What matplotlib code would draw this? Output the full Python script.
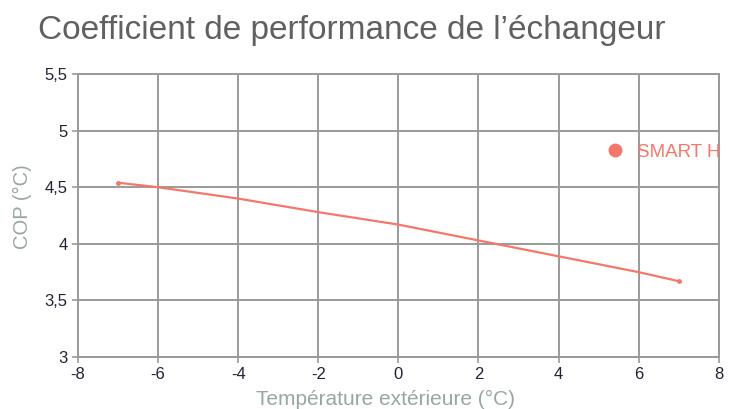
import matplotlib
matplotlib.use("Agg")
import matplotlib.pyplot as plt
from matplotlib.lines import Line2D
from matplotlib.ticker import FuncFormatter

# donnees
temp_ext = [-7, -6, -4, -2, 0, 2, 4, 6, 7]
cop = [4.54, 4.50, 4.40, 4.28, 4.17, 4.03, 3.89, 3.75, 3.67]
serie = "SMART H"
x_ticks = [-8, -6, -4, -2, 0, 2, 4, 6, 8]
y_ticks = [3, 3.5, 4, 4.5, 5, 5.5]

plt.rcParams['font.family'] = ['Liberation Sans', 'DejaVu Sans']
plt.rcParams['axes.unicode_minus'] = False
rouge = '#f4776a'
grille = '#9a9a9a'

fig = plt.figure(figsize=(7.29, 4.09), dpi=100)
ax = fig.add_axes([0.107, 0.127, 0.879, 0.692])

ax.plot(temp_ext, cop, color=rouge, lw=1.6, marker='o', ms=2.5, markevery=[0, len(cop) - 1])

ax.set_xlim(-8, 8)
ax.set_ylim(3, 5.5)
ax.set_xticks(x_ticks)
ax.set_yticks(y_ticks)
ax.yaxis.set_major_formatter(FuncFormatter(lambda v, p: ('%g' % v).replace('.', ',')))
ax.grid(True, color=grille, lw=1.4)
ax.set_axisbelow(True)
for s in ax.spines.values():
    s.set_color(grille)
    s.set_linewidth(1.4)
ax.tick_params(colors=grille, labelcolor='#222233', labelsize=12, length=4, width=1.2)

ax.set_xlabel("Température extérieure (°C)", color='#9aa6a0', fontsize=15, labelpad=3)
ax.xaxis.set_label_coords(0.48, -0.115)
ax.set_ylabel("COP (°C)", color='#9aa6a0', fontsize=14.5, labelpad=10)
ax.yaxis.set_label_coords(-0.072, 0.53)

fig.text(0.052, 0.925, "Coefficient de performance de l\u2019échangeur",
         fontsize=24, color='#606060', va='center', ha='left')

h = Line2D([], [], color=rouge, marker='o', ls='', ms=9)
leg = ax.legend([h], [serie], loc='center left', bbox_to_anchor=(0.807, 0.628),
                bbox_transform=fig.transFigure, frameon=False, fontsize=13.5,
                handletextpad=0.2, borderaxespad=0)
for t in leg.get_texts():
    t.set_color(rouge)

fig.savefig("out.png", dpi=100)
